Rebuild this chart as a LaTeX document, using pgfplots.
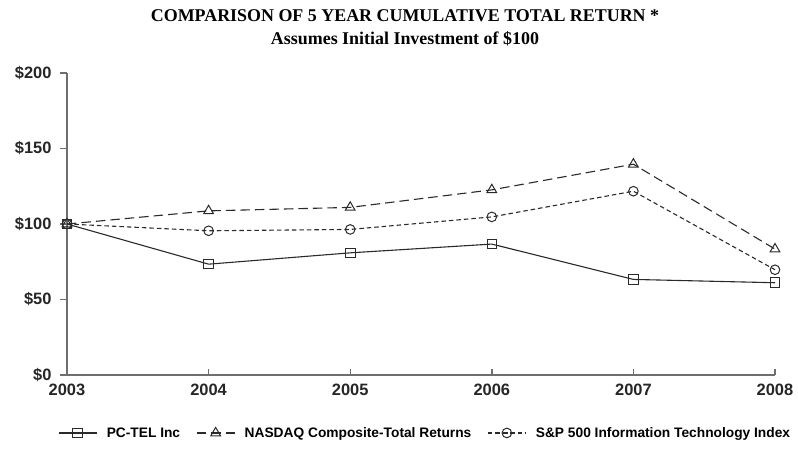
\documentclass[border=0pt]{standalone}
\usepackage{pgfplots}
\pgfplotsset{compat=1.18}
\usepackage{fontspec}
\setmainfont{Liberation Serif}
\newfontfamily\arial{Liberation Sans}
\definecolor{ln}{HTML}{2A2A2A}
\definecolor{ax}{HTML}{6E6E6E}
\begin{document}
\begin{tikzpicture}
\begin{axis}[
  scale only axis, width=708bp, height=302bp,
  xmin=2003, xmax=2008, ymin=0, ymax=200,
  axis lines*=left,
  axis line style={draw=ax, line width=1.6bp},
  clip=false,
  xtick={2003,2004,2005,2006,2007,2008},
  xticklabels={2003,2004,2005,2006,2007,2008},
  ytick={0,50,100,150,200},
  yticklabels={\$0,\$50,\$100,\$150,\$200},
  tick align=inside,
  major tick length=6.5bp,
  tick style={draw=ax, line width=1.4bp},
  ytick style={xshift=-6.5bp},
  ticklabel style={font=\arial\bfseries\fontsize{16.5}{18}\selectfont, text=black!85},
  yticklabel style={xshift=-12bp},
  xticklabel style={yshift=-6bp},
  legend columns=-1,
  legend style={draw=none, fill=none, inner sep=0pt, font=\arial\bfseries\fontsize{13.8}{16}\selectfont,
    at={(-0.0127,-0.192)}, anchor=west,
    /tikz/every odd column/.append style={column sep=7.5bp},
    /tikz/every even column/.append style={column sep=14bp}},
  legend image code/.code={\draw[mark repeat=2,mark phase=2,#1] plot coordinates {(0bp,0bp) (19bp,0bp) (38bp,0bp)};},
  every axis plot/.append style={color=ln, line width=1.1bp, mark size=4.8bp, mark options={fill=white, solid, line width=1bp}},
]
\addplot[mark=square] coordinates {(2003,100) (2004,73.4) (2005,80.9) (2006,86.7) (2007,63.3) (2008,61.1)};
\addlegendentry{PC-TEL Inc}
\addplot[mark=triangle, mark size=5.6bp, dash pattern=on 9.5bp off 5bp] coordinates {(2003,100) (2004,108.7) (2005,111.0) (2006,122.6) (2007,139.6) (2008,83.4)};
\addlegendentry{NASDAQ Composite-Total Returns}
\addplot[mark=o, dash pattern=on 4.5bp off 3bp] coordinates {(2003,100) (2004,95.5) (2005,96.4) (2006,104.7) (2007,121.7) (2008,69.7)};
\addlegendentry{S\&P 500 Information Technology Index}
\node[anchor=base, font=\bfseries\fontsize{18}{20}\selectfont] at (rel axis cs:0.4774,1.170) {COMPARISON OF 5 YEAR CUMULATIVE TOTAL RETURN *};
\node[anchor=base, font=\bfseries\fontsize{18}{20}\selectfont] at (rel axis cs:0.4774,1.095) {Assumes Initial Investment of \$100};
\coordinate (sw) at (rel axis cs:0,0);
\coordinate (ne) at (rel axis cs:1,1);
\end{axis}
\useasboundingbox ([shift={(-67bp,-86bp)}]sw) rectangle ([shift={(23bp,73bp)}]ne);
\end{tikzpicture}
\end{document}
